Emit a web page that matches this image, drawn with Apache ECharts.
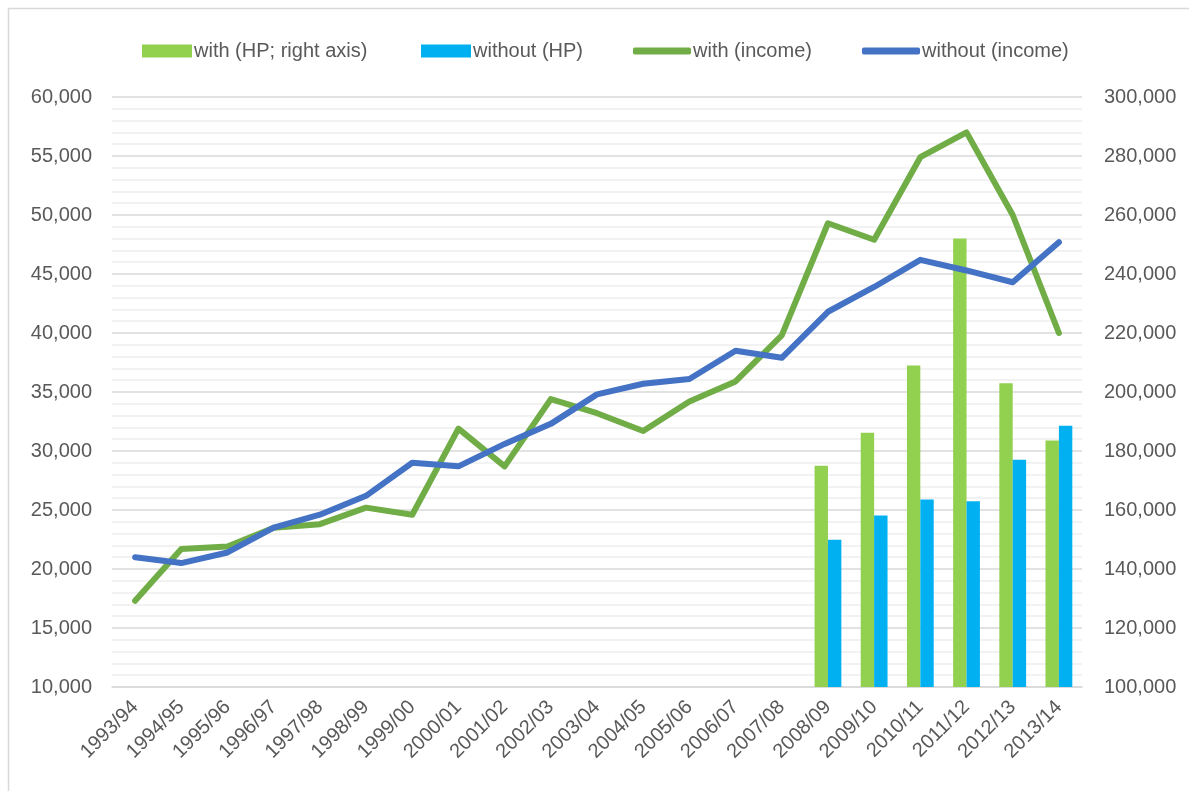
<!DOCTYPE html>
<html>
<head>
<meta charset="utf-8">
<script src="https://cdn.jsdelivr.net/npm/echarts@6/dist/echarts.min.js"></script>
<style>
html,body{margin:0;padding:0;background:#fff;}
#chart{width:1189px;height:791px;}
</style>
</head>
<body>
<div id="chart"></div>
<script>
const categories = ['1993/94','1994/95','1995/96','1996/97','1997/98','1998/99','1999/00','2000/01','2001/02','2002/03','2003/04','2004/05','2005/06','2006/07','2007/08','2008/09','2009/10','2010/11','2011/12','2012/13','2013/14'];
const withHP = [null,null,null,null,null,null,null,null,null,null,null,null,null,null,null,175000,186200,209000,252000,203000,183600];
const withoutHP = [null,null,null,null,null,null,null,null,null,null,null,null,null,null,null,149900,158100,163600,163000,177000,188600];
const withIncome = [17300,21700,21900,23500,23800,25200,24600,31900,28700,34400,33200,31700,34200,35900,39800,49300,47900,54900,57000,50000,40000];
const withoutIncome = [21000,20500,21400,23500,24600,26200,29000,28700,30600,32300,34800,35700,36100,38500,37900,41800,43900,46200,45300,44300,47700];
const leftTicks = {min:10000, max:60000, interval:5000};
const rightTicks = {min:100000, max:300000, interval:20000};

const FONT = '"Liberation Sans", Arial, sans-serif';
const TXT = '#595959';
const fmt = v => v.toLocaleString('en-US');

const chart = echarts.init(document.getElementById('chart'), null, {renderer:'canvas'});
function legend(name, left, w, h, icon) {
  return {
    data:[icon ? {name:name, icon:icon} : name], left:left, top:36, itemWidth:w, itemHeight:h, itemGap:0,
    textStyle:{color:TXT, fontSize:20, fontFamily:FONT, padding:[0,0,0,-3]},
    selectedMode:false
  };
}
chart.setOption({
  animation:false,
  backgroundColor:'#fff',
  graphic:[{type:'rect', shape:{x:8.5,y:8.5,width:1300,height:900}, style:{fill:'none', stroke:'#d9d9d9', lineWidth:1.5}, silent:true}],
  legend:[
    legend('with (HP; right axis)', 137, 50, 13, 'rect'),
    legend('without (HP)', 416, 50, 13, 'rect'),
    legend('with (income)', 628, 58, 7, 'roundRect'),
    legend('without (income)', 857, 58, 7, 'roundRect')
  ],
  grid:{left:112, right:107, top:97, bottom:104, containLabel:false},
  xAxis:{
    type:'category', data:categories, boundaryGap:true,
    axisLine:{show:true, lineStyle:{color:'#d9d9d9', width:1.5}},
    axisTick:{show:false},
    axisLabel:{rotate:45, color:TXT, fontSize:20, fontFamily:FONT, margin:17, interval:0}
  },
  yAxis:[
    {type:'value', min:leftTicks.min, max:leftTicks.max, interval:leftTicks.interval,
     axisLine:{show:false}, axisTick:{show:false},
     axisLabel:{color:TXT, fontSize:20, fontFamily:FONT, margin:20, formatter:fmt},
     splitLine:{show:true, lineStyle:{color:'#d9d9d9', width:1.5}},
     minorTick:{show:false, splitNumber:5},
     minorSplitLine:{show:true, lineStyle:{color:'#eeeeee', width:1.5}}
    },
    {type:'value', min:rightTicks.min, max:rightTicks.max, interval:rightTicks.interval, position:'right',
     axisLine:{show:false}, axisTick:{show:false},
     axisLabel:{color:TXT, fontSize:20, fontFamily:FONT, margin:22, formatter:fmt},
     splitLine:{show:false}
    }
  ],
  series:[
    {name:'with (HP; right axis)', type:'bar', yAxisIndex:1, data:withHP, barWidth:'29%', barGap:'0%',
     itemStyle:{color:'#92d050'}, z:2},
    {name:'without (HP)', type:'bar', yAxisIndex:1, data:withoutHP, barWidth:'29%', barGap:'0%',
     itemStyle:{color:'#00b0f0'}, z:2},
    {name:'with (income)', type:'line', yAxisIndex:0, data:withIncome, symbol:'none',
     lineStyle:{color:'#70ad47', width:6, cap:'round', join:'round'}, itemStyle:{color:'#70ad47'}, z:3},
    {name:'without (income)', type:'line', yAxisIndex:0, data:withoutIncome, symbol:'none',
     lineStyle:{color:'#4472c4', width:6, cap:'round', join:'round'}, itemStyle:{color:'#4472c4'}, z:4}
  ]
});
</script>
</body>
</html>
